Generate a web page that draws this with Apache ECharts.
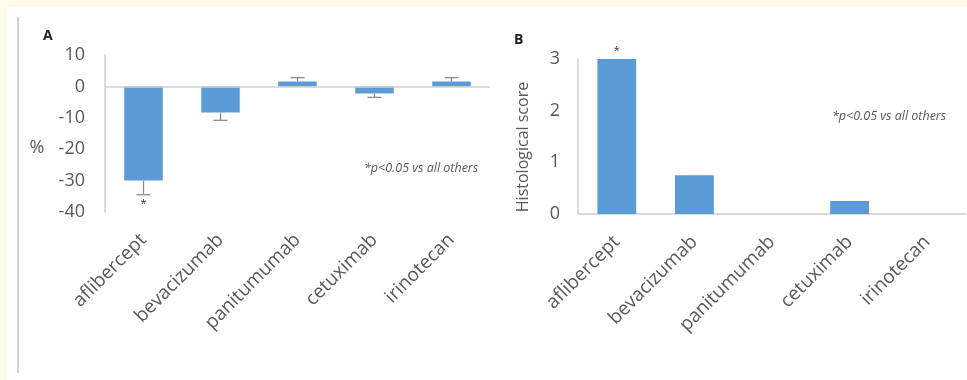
<!DOCTYPE html>
<html>
<head>
<meta charset="utf-8">
<script src="https://cdn.jsdelivr.net/npm/echarts@6/dist/echarts.min.js"></script>
<style>
html,body{margin:0;padding:0;background:#fffbe8;}
#c{width:967px;height:380px;}
</style>
</head>
<body>
<div id="c"></div>
<script>
// ---- data ----
var categories = ['aflibercept', 'bevacizumab', 'panitumumab', 'cetuximab', 'irinotecan'];
var changeA = [-30, -8.3, 1.6, -2.3, 1.6];          // % change (panel A)
var errorEndA = [-34.5, -10.8, 2.8, -3.5, 2.8];     // end of error bar (panel A)
var scoreB = [3, 0.75, 0, 0.25, 0];                 // histological score (panel B)
var sigA = [true, false, false, false, false];
var sigB = [true, false, false, false, false];
var ticksA = [10, 0, -10, -20, -30, -40];
var ticksB = [0, 1, 2, 3];
var noteText = '*p<0.05 vs all others';

var FONT = '"Open Sans", sans-serif';
var GREY = '#595959';
var BAR = '#5b9bd5';
var AXIS = '#d0d0d0';

var chart = echarts.init(document.getElementById('c'));

function errItem(params, api) {
  var i = api.value(0), v = api.value(1), e = api.value(2);
  var p0 = api.coord([i, v]), p1 = api.coord([i, e]);
  var half = 7;
  var st = {stroke: '#8c8c8c', lineWidth: 1.3};
  var children = [
    {type: 'line', shape: {x1: p0[0], y1: p0[1], x2: p1[0], y2: p1[1]}, style: st},
    {type: 'line', shape: {x1: p1[0] - half, y1: p1[1], x2: p1[0] + half, y2: p1[1]}, style: st}
  ];
  if (sigA[params.dataIndex]) {
    children.push({type: 'text', style: {text: '*', x: p1[0], y: p1[1] + 4, align: 'center', verticalAlign: 'top', fontSize: 11, fontFamily: FONT, fill: '#333'}});
  }
  return {type: 'group', children: children};
}

var catAxisCommon = {
  type: 'category',
  data: categories,
  axisLine: {show: false, onZero: false},
  axisTick: {show: false},
  axisLabel: {rotate: 45, margin: 25, fontSize: 19, color: GREY, fontFamily: FONT, interval: 0}
};

var option = {
  backgroundColor: '#fffbe8',
  animation: false,
  graphic: [
    {type: 'rect', shape: {x: 7, y: 7, width: 960, height: 373}, style: {fill: '#ffffff'}, z: -10},
    {type: 'line', shape: {x1: 18, y1: 17, x2: 18, y2: 373}, style: {stroke: '#cdd2da', lineWidth: 2}, z: -5},
    {type: 'text', left: 43, top: 29, style: {text: 'A', fontSize: 14, fontWeight: 'bold', fontFamily: FONT, fill: '#222'}},
    {type: 'text', left: 514, top: 33, style: {text: 'B', fontSize: 14, fontWeight: 'bold', fontFamily: FONT, fill: '#222'}},
    {type: 'text', x: 37, y: 148, style: {text: '%', fontSize: 18, fontFamily: FONT, fill: GREY, align: 'center', verticalAlign: 'middle'}},
    {type: 'text', x: 523, y: 147, rotation: Math.PI / 2, style: {text: 'Histological score', fontSize: 16, fontFamily: FONT, fill: GREY, align: 'center', verticalAlign: 'middle'}},
    {type: 'text', left: 364, top: 162, style: {text: noteText, fontSize: 12.5, fontStyle: 'italic', fontFamily: FONT, fill: GREY}},
    {type: 'text', left: 832, top: 110, style: {text: noteText, fontSize: 12.5, fontStyle: 'italic', fontFamily: FONT, fill: GREY}}
  ],
  grid: [
    {left: 105, top: 55, width: 385, height: 157},
    {left: 578, top: 59, width: 388, height: 155}
  ],
  xAxis: [
    Object.assign({gridIndex: 0}, catAxisCommon),
    Object.assign({gridIndex: 1}, catAxisCommon, {axisLine: {show: true, onZero: false, lineStyle: {color: AXIS, width: 1.5}}})
  ],
  yAxis: [
    {
      gridIndex: 0, type: 'value', min: ticksA[ticksA.length - 1], max: ticksA[0], interval: 10,
      axisLine: {show: true, lineStyle: {color: AXIS, width: 1.5}},
      axisTick: {show: false}, splitLine: {show: false},
      axisLabel: {fontSize: 18, color: GREY, fontFamily: FONT, margin: 20}
    },
    {
      gridIndex: 1, type: 'value', min: ticksB[0], max: ticksB[ticksB.length - 1], interval: 1,
      axisLine: {show: true, lineStyle: {color: AXIS, width: 1.5}},
      axisTick: {show: false}, splitLine: {show: false},
      axisLabel: {fontSize: 18, color: GREY, fontFamily: FONT, margin: 18}
    }
  ],
  series: [
    {
      type: 'bar', xAxisIndex: 0, yAxisIndex: 0, data: changeA, barWidth: '50%',
      itemStyle: {color: BAR},
      markLine: {
        silent: true, symbol: 'none', label: {show: false},
        lineStyle: {color: AXIS, width: 1.5, type: 'solid'},
        data: [{yAxis: 0}]
      }
    },
    {
      type: 'custom', xAxisIndex: 0, yAxisIndex: 0, renderItem: errItem, z: 5,
      data: changeA.map(function (v, i) { return [i, v, errorEndA[i]]; })
    },
    {
      type: 'bar', xAxisIndex: 1, yAxisIndex: 1, data: scoreB, barWidth: '50%',
      itemStyle: {color: BAR},
      label: {
        show: true, position: 'top', distance: 3, fontSize: 11, color: '#333', fontFamily: FONT,
        formatter: function (p) { return sigB[p.dataIndex] ? '*' : ''; }
      }
    }
  ]
};
chart.setOption(option);
</script>
</body>
</html>
